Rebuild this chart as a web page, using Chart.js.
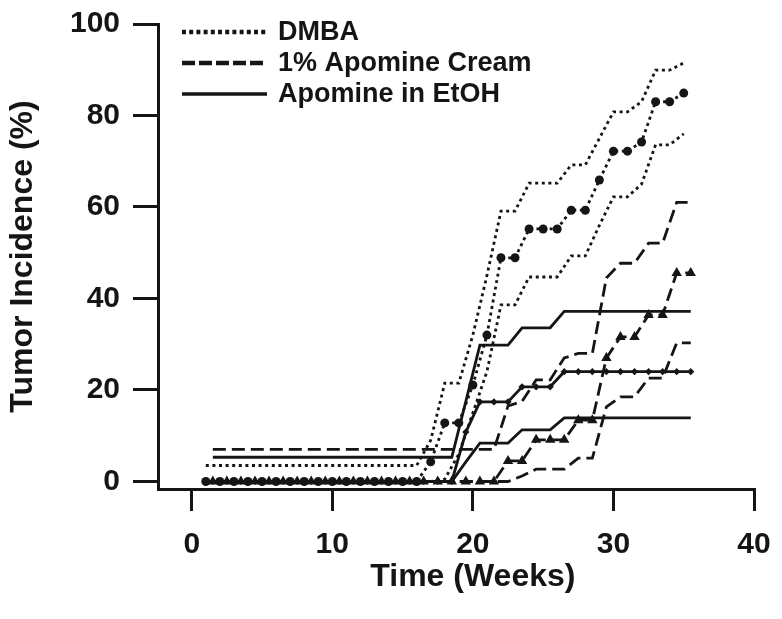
<!DOCTYPE html>
<html>
<head>
  <meta charset="utf-8">
  <title>Tumor Incidence</title>
  <script src="https://cdn.jsdelivr.net/npm/chart.js"></script>
  <style>
    body { margin: 0; background: #fff; }
  </style>
</head>
<body>
  <canvas id="tumor-chart" width="782" height="619"></canvas>

  <script>
    // time points (weeks); the two treated groups were read half a week later
    var dmbaWeeks = [1, 2, 3, 4, 5, 6, 7, 8, 9, 10, 11, 12, 13, 14, 15, 16, 17, 18,
      19, 20, 21, 22, 23, 24, 25, 26, 27, 28, 29, 30, 31, 32, 33, 34, 35];
    var treatedWeeks = [1.5, 2.5, 3.5, 4.5, 5.5, 6.5, 7.5, 8.5, 9.5, 10.5, 11.5, 12.5,
      13.5, 14.5, 15.5, 16.5, 17.5, 18.5, 19.5, 20.5, 21.5, 22.5, 23.5, 24.5, 25.5,
      26.5, 27.5, 28.5, 29.5, 30.5, 31.5, 32.5, 33.5, 34.5, 35.5];

    // DMBA (dotted): mean with circles, plus upper / lower band
    var dmbaMean = [0, 0, 0, 0, 0, 0, 0, 0, 0, 0, 0, 0, 0, 0, 0, 0, 4.3, 12.8,
      12.8, 21.1, 32.0, 48.9, 48.9, 55.2, 55.2, 55.2, 59.3, 59.3, 65.9, 72.2, 72.2, 74.2, 83.0, 83.0, 84.9];
    var dmbaUpper = [3.5, 3.5, 3.5, 3.5, 3.5, 3.5, 3.5, 3.5, 3.5, 3.5, 3.5, 3.5, 3.5, 3.5, 3.5, 3.5, 9, 21.5,
      21.5, 32, 45, 59.1, 59.1, 65.2, 65.2, 65.2, 69.2, 69.2, 75, 80.8, 80.8, 83, 89.9, 89.9, 91.5];
    var dmbaLower = [0, 0, 0, 0, 0, 0, 0, 0, 0, 0, 0, 0, 0, 0, 0, 0, 0, 0.5,
      6, 15, 24, 38.6, 38.6, 44.7, 44.7, 44.7, 49.3, 49.3, 56, 62.2, 62.2, 65, 73.6, 73.6, 76];

    // 1% Apomine Cream (dashed): mean with triangles
    var creamMean = [0, 0, 0, 0, 0, 0, 0, 0, 0, 0, 0, 0, 0, 0, 0, 0, 0, 0, 0, 0, 0,
      4.5, 4.5, 9.1, 9.1, 9.1, 13.4, 13.4, 27, 31.6, 31.6, 36.4, 36.4, 45.6, 45.6];
    var creamUpper = [7, 7, 7, 7, 7, 7, 7, 7, 7, 7, 7, 7, 7, 7, 7, 7, 7, 7, 7, 7, 7,
      16.5, 17.5, 22.2, 22.2, 27, 28, 28, 44.5, 47.7, 47.7, 52.1, 52.1, 61, 61];
    var creamLower = [0, 0, 0, 0, 0, 0, 0, 0, 0, 0, 0, 0, 0, 0, 0, 0, 0, 0, 0, 0, 0, 0,
      1.2, 2.7, 2.7, 2.7, 5.1, 5.1, 16.3, 18.5, 18.5, 22.6, 22.6, 30.3, 30.3];

    // Apomine in EtOH (solid): mean with diamonds
    var etohMean = [0, 0, 0, 0, 0, 0, 0, 0, 0, 0, 0, 0, 0, 0, 0, 0, 0, 0,
      10.8, 17.4, 17.4, 17.4, 20.7, 20.7, 20.7, 24, 24, 24, 24, 24, 24, 24, 24, 24, 24];
    var etohUpper = [5.3, 5.3, 5.3, 5.3, 5.3, 5.3, 5.3, 5.3, 5.3, 5.3, 5.3, 5.3, 5.3, 5.3, 5.3, 5.3, 5.3, 5.3,
      17.5, 29.8, 29.8, 29.8, 33.6, 33.6, 33.6, 37.2, 37.2, 37.2, 37.2, 37.2, 37.2, 37.2, 37.2, 37.2, 37.2];
    var etohLower = [0, 0, 0, 0, 0, 0, 0, 0, 0, 0, 0, 0, 0, 0, 0, 0, 0, 0,
      4.3, 8.4, 8.4, 8.4, 11.3, 11.3, 11.3, 13.9, 13.9, 13.9, 13.9, 13.9, 13.9, 13.9, 13.9, 13.9, 13.9];

    var xTicks = [0, 10, 20, 30, 40];
    var yTicks = [0, 20, 40, 60, 80, 100];

    var legendLabels = ["DMBA", "1% Apomine Cream", "Apomine in EtOH"];

    var ink = "#151515";
    var fontFamily = '"Liberation Sans", Arial, Helvetica, sans-serif';
    var dotted = [3, 3.6];
    var dashed = [13, 6];
    var legendDashes = [[4, 3.2], [13, 4], []];
    var legendWidths = [4.5, 4.5, 3.5];

    function toPoints(weeks, values) {
      return weeks.map(function (w, i) { return { x: w, y: values[i] }; });
    }

    function line(weeks, values, dash, marker, radius) {
      return {
        data: toPoints(weeks, values),
        borderColor: ink,
        backgroundColor: ink,
        borderWidth: 2.8,
        borderDash: dash,
        borderCapStyle: "butt",
        tension: 0,
        fill: false,
        pointStyle: marker || "circle",
        pointRadius: marker ? radius : 0,
        pointHoverRadius: 0,
        pointBorderWidth: 0,
        pointBackgroundColor: ink
      };
    }

    // keep the plot box where the figure has it: no extra room for tick labels
    function noLabelPadding(scale) {
      scale.paddingTop = 0;
      scale.paddingBottom = 0;
      scale.paddingLeft = 0;
      scale.paddingRight = 0;
    }

    // legend drawn inside the plot, top-left, like the original figure
    var legendPlugin = {
      id: "insideLegend",
      afterDraw: function (chart) {
        var ctx = chart.ctx;
        var area = chart.chartArea;
        ctx.save();
        ctx.fillStyle = ink;
        ctx.strokeStyle = ink;
        ctx.font = "bold 27px " + fontFamily;
        ctx.textBaseline = "middle";
        ctx.textAlign = "left";
        for (var i = 0; i < legendLabels.length; i++) {
          var y = area.top + 8 + i * 31;
          ctx.lineWidth = legendWidths[i];
          ctx.setLineDash(legendDashes[i]);
          ctx.beginPath();
          ctx.moveTo(area.left + 24, y);
          ctx.lineTo(area.left + 109, y);
          ctx.stroke();
          ctx.fillText(legendLabels[i], area.left + 120, y + 1);
        }
        ctx.restore();
      }
    };

    // x title is centred on the 0-40 span, not on the whole axis line
    var xTitlePlugin = {
      id: "xTitle",
      afterDraw: function (chart) {
        var ctx = chart.ctx;
        ctx.save();
        ctx.fillStyle = ink;
        ctx.font = "bold 32px " + fontFamily;
        ctx.textAlign = "center";
        ctx.textBaseline = "middle";
        ctx.fillText("Time (Weeks)", chart.scales.x.getPixelForValue(20), chart.chartArea.bottom + 88);
        ctx.restore();
      }
    };

    var ctx = document.getElementById("tumor-chart").getContext("2d");
    var tumorChart = new Chart(ctx, {
      type: "line",
      data: {
        datasets: [
          line(dmbaWeeks, dmbaUpper, dotted),
          line(dmbaWeeks, dmbaMean, dotted, "circle", 4.5),
          line(dmbaWeeks, dmbaLower, dotted),
          line(treatedWeeks, creamUpper, dashed),
          line(treatedWeeks, creamMean, dashed, "triangle", 6),
          line(treatedWeeks, creamLower, dashed),
          line(treatedWeeks, etohUpper, []),
          line(treatedWeeks, etohMean, [], "rectRot", 3.6),
          line(treatedWeeks, etohLower, [])
        ]
      },
      options: {
        responsive: false,
        animation: false,
        layout: { padding: { left: 0, right: 28, top: 24, bottom: 0 } },
        plugins: {
          legend: { display: false },
          tooltip: { enabled: false }
        },
        scales: {
          x: {
            type: "linear",
            min: -2.4,
            max: 40,
            afterBuildTicks: function (scale) {
              scale.ticks = xTicks.map(function (v) { return { value: v }; });
            },
            afterFit: function (scale) {
              scale.height = 130;
              noLabelPadding(scale);
            },
            ticks: {
              color: ink,
              padding: 16,
              maxRotation: 0,
              autoSkip: false,
              font: { family: fontFamily, size: 30, weight: "bold" }
            },
            grid: {
              display: true,
              drawOnChartArea: false,
              drawTicks: true,
              tickLength: 22,
              lineWidth: 3,
              color: ink
            },
            border: { display: true, width: 3, color: ink }
          },
          y: {
            type: "linear",
            min: -1.64,
            max: 100,
            afterBuildTicks: function (scale) {
              scale.ticks = yTicks.map(function (v) { return { value: v }; });
            },
            afterFit: function (scale) {
              scale.width = 158;
              noLabelPadding(scale);
            },
            ticks: {
              color: ink,
              padding: 13,
              autoSkip: false,
              font: { family: fontFamily, size: 30, weight: "bold" }
            },
            grid: {
              display: true,
              drawOnChartArea: false,
              drawTicks: true,
              tickLength: 25,
              lineWidth: 3,
              color: ink
            },
            border: { display: true, width: 3, color: ink },
            title: {
              display: true,
              text: "Tumor Incidence (%)",
              color: ink,
              padding: { top: 4, bottom: 0 },
              font: { family: fontFamily, size: 32, weight: "bold" }
            }
          }
        }
      },
      plugins: [legendPlugin, xTitlePlugin]
    });
  </script>
</body>
</html>
